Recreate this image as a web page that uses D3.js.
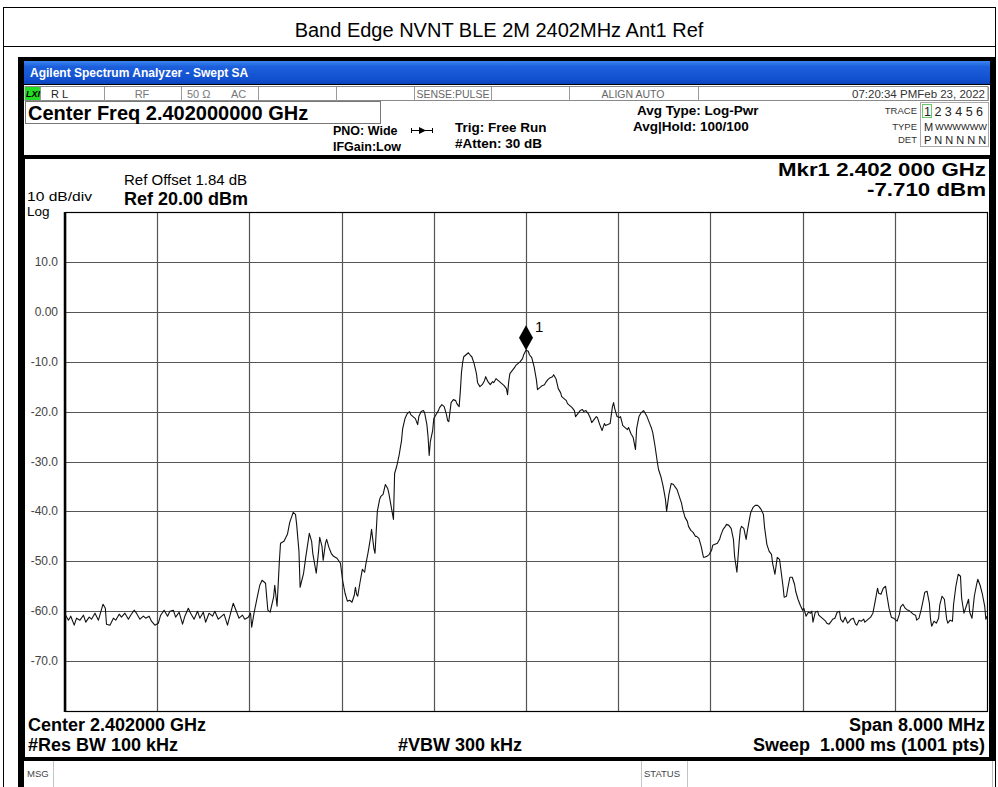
<!DOCTYPE html>
<html>
<head>
<meta charset="utf-8">
<script src="https://cdn.jsdelivr.net/npm/d3@7"></script>
<style>
  body { margin: 0; background: #fff; }
  text { font-family: "Liberation Sans", Arial, sans-serif; white-space: pre; }
</style>
</head>
<body>
<div id="container"></div>
<script>
let w = 998;
let h = 787;

// ---- chart values ----
let chartTitle = "Band Edge NVNT BLE 2M 2402MHz Ant1 Ref";
let refLevel = 20;      // dBm at top of graticule
let dbPerDiv = 10;
let numDivs = 10;
let spanMHz = 8;        // offsets below are MHz from 2.402 GHz
let yTickValues = [10, 0, -10, -20, -30, -40, -50, -60, -70];
let yTickLabels = ["10.0", "0.00", "-10.0", "-20.0", "-30.0", "-40.0", "-50.0", "-60.0", "-70.0"];
let markerOffset = 0;
let markerLevel = -7.71;

// trace 1: [offset MHz, dBm]
let trace = [
  [-4.00,-60.6],[-3.97,-61.8],[-3.95,-61.0],[-3.92,-62.8],[-3.90,-61.4],[-3.87,-61.8],[-3.84,-60.8],[-3.82,-62.2],
  [-3.79,-61.2],[-3.77,-61.6],[-3.74,-60.4],[-3.71,-61.8],[-3.69,-60.2],[-3.67,-58.6],[-3.65,-59.4],[-3.64,-62.6],
  [-3.61,-62.8],[-3.58,-61.4],[-3.56,-61.8],[-3.53,-60.6],[-3.51,-61.2],[-3.48,-60.4],[-3.45,-61.6],[-3.43,-60.8],
  [-3.40,-59.8],[-3.38,-60.4],[-3.35,-61.6],[-3.32,-61.0],[-3.30,-61.4],[-3.27,-61.0],[-3.25,-62.0],[-3.22,-62.8],
  [-3.19,-62.4],[-3.17,-60.8],[-3.14,-59.8],[-3.11,-61.0],[-3.09,-60.0],[-3.06,-59.8],[-3.04,-61.2],[-3.01,-60.2],
  [-2.98,-62.6],[-2.96,-61.0],[-2.93,-59.4],[-2.91,-60.4],[-2.88,-61.6],[-2.85,-60.0],[-2.83,-61.4],[-2.80,-60.2],
  [-2.78,-62.2],[-2.75,-60.4],[-2.72,-61.0],[-2.70,-60.0],[-2.67,-61.6],[-2.65,-61.2],[-2.62,-60.6],[-2.59,-62.8],
  [-2.57,-61.0],[-2.54,-58.4],[-2.52,-59.6],[-2.49,-61.4],[-2.46,-60.8],[-2.44,-61.6],[-2.41,-61.2],[-2.39,-60.4],
  [-2.38,-63.2],[-2.36,-60.4],[-2.33,-57.0],[-2.31,-54.8],[-2.29,-53.8],[-2.26,-54.4],[-2.24,-59.8],[-2.22,-60.2],
  [-2.19,-57.2],[-2.18,-54.8],[-2.16,-59.0],[-2.14,-50.0],[-2.13,-46.4],[-2.10,-46.0],[-2.07,-44.6],[-2.05,-42.2],
  [-2.02,-40.2],[-2.00,-40.6],[-1.99,-42.6],[-1.97,-48.0],[-1.96,-55.2],[-1.93,-52.4],[-1.91,-49.0],[-1.88,-44.4],
  [-1.86,-46.0],[-1.85,-48.4],[-1.82,-52.4],[-1.80,-48.0],[-1.79,-45.2],[-1.77,-47.0],[-1.76,-49.8],[-1.74,-46.4],
  [-1.73,-45.6],[-1.71,-47.2],[-1.69,-48.4],[-1.67,-49.0],[-1.64,-49.4],[-1.61,-50.4],[-1.59,-54.0],[-1.57,-56.4],
  [-1.55,-58.0],[-1.53,-57.8],[-1.51,-58.2],[-1.49,-56.8],[-1.48,-55.2],[-1.47,-56.6],[-1.46,-57.0],[-1.44,-54.2],
  [-1.42,-51.6],[-1.40,-52.2],[-1.39,-50.6],[-1.37,-48.2],[-1.35,-45.4],[-1.34,-43.6],[-1.32,-47.4],[-1.31,-48.4],
  [-1.29,-40.0],[-1.27,-37.6],[-1.26,-37.0],[-1.24,-36.6],[-1.22,-34.6],[-1.20,-35.4],[-1.19,-36.4],[-1.17,-39.0],
  [-1.15,-41.6],[-1.14,-32.4],[-1.12,-30.8],[-1.10,-28.6],[-1.08,-25.8],[-1.07,-23.4],[-1.05,-21.4],[-1.03,-20.4],
  [-1.01,-20.0],[-1.00,-20.6],[-0.98,-21.0],[-0.96,-21.4],[-0.94,-22.6],[-0.93,-21.0],[-0.91,-20.0],[-0.89,-19.8],
  [-0.88,-20.2],[-0.86,-22.6],[-0.85,-25.0],[-0.84,-28.8],[-0.83,-26.0],[-0.81,-23.8],[-0.80,-21.4],[-0.78,-20.6],
  [-0.76,-19.8],[-0.75,-19.2],[-0.73,-18.6],[-0.71,-19.0],[-0.69,-20.6],[-0.68,-21.8],[-0.67,-22.0],[-0.65,-18.2],
  [-0.63,-17.6],[-0.61,-17.8],[-0.60,-18.4],[-0.58,-19.0],[-0.57,-16.0],[-0.56,-12.2],[-0.55,-10.2],[-0.54,-9.0],
  [-0.52,-8.6],[-0.50,-8.2],[-0.48,-8.8],[-0.47,-9.0],[-0.45,-10.4],[-0.43,-12.4],[-0.42,-14.2],[-0.40,-15.0],
  [-0.38,-14.6],[-0.36,-13.8],[-0.35,-13.0],[-0.33,-14.0],[-0.31,-14.6],[-0.29,-14.0],[-0.28,-14.2],[-0.26,-13.4],
  [-0.24,-13.8],[-0.22,-14.2],[-0.21,-14.4],[-0.19,-14.8],[-0.17,-15.4],[-0.16,-16.6],[-0.15,-14.0],[-0.14,-12.4],
  [-0.12,-11.8],[-0.10,-11.2],[-0.09,-10.8],[-0.07,-10.4],[-0.05,-10.0],[-0.03,-9.4],[-0.02,-8.6],[0.00,-7.71],
  [0.02,-7.9],[0.03,-8.6],[0.05,-9.2],[0.07,-11.0],[0.09,-13.6],[0.10,-15.6],[0.12,-15.2],[0.14,-14.8],
  [0.16,-14.6],[0.17,-14.2],[0.19,-13.6],[0.21,-13.2],[0.23,-13.0],[0.24,-12.6],[0.26,-13.4],[0.28,-15.4],
  [0.30,-16.2],[0.31,-17.0],[0.33,-17.4],[0.35,-17.8],[0.36,-18.4],[0.38,-18.8],[0.40,-19.2],[0.42,-19.8],
  [0.43,-21.0],[0.45,-20.4],[0.47,-19.8],[0.49,-19.6],[0.50,-20.0],[0.52,-19.8],[0.54,-20.4],[0.56,-21.4],
  [0.57,-22.2],[0.59,-21.6],[0.61,-21.0],[0.62,-21.2],[0.64,-22.6],[0.66,-23.8],[0.68,-22.4],[0.69,-22.8],
  [0.71,-22.6],[0.73,-22.4],[0.75,-19.0],[0.76,-18.2],[0.77,-19.4],[0.79,-21.0],[0.81,-21.2],[0.82,-21.0],
  [0.84,-22.8],[0.86,-23.2],[0.88,-23.6],[0.89,-23.2],[0.91,-24.4],[0.93,-25.2],[0.95,-27.6],[0.96,-23.4],
  [0.98,-21.0],[1.00,-20.2],[1.02,-19.8],[1.03,-20.2],[1.05,-21.0],[1.07,-22.2],[1.09,-23.4],[1.10,-24.2],
  [1.12,-27.0],[1.14,-30.2],[1.15,-31.6],[1.17,-33.0],[1.19,-35.0],[1.21,-37.6],[1.22,-40.0],[1.24,-36.6],
  [1.26,-34.4],[1.28,-34.6],[1.29,-35.0],[1.31,-35.6],[1.33,-37.0],[1.35,-38.4],[1.36,-39.6],[1.38,-41.2],
  [1.40,-42.0],[1.41,-43.0],[1.43,-43.8],[1.45,-44.2],[1.47,-45.0],[1.48,-45.0],[1.50,-45.4],[1.52,-47.0],
  [1.54,-49.2],[1.55,-49.2],[1.57,-49.0],[1.59,-48.6],[1.61,-47.8],[1.62,-46.8],[1.64,-46.6],[1.66,-46.4],
  [1.68,-45.6],[1.69,-44.8],[1.71,-43.6],[1.73,-43.0],[1.74,-42.6],[1.76,-42.8],[1.78,-43.4],[1.80,-45.6],
  [1.81,-49.0],[1.83,-52.2],[1.85,-46.0],[1.86,-43.6],[1.87,-43.0],[1.89,-43.4],[1.91,-45.6],[1.92,-44.0],
  [1.94,-41.4],[1.95,-40.2],[1.97,-39.2],[1.99,-38.8],[2.01,-38.8],[2.02,-39.0],[2.04,-39.6],[2.06,-40.6],
  [2.07,-43.2],[2.09,-46.6],[2.11,-48.0],[2.13,-48.6],[2.14,-50.4],[2.16,-52.6],[2.18,-49.2],[2.20,-49.6],
  [2.21,-51.4],[2.23,-55.0],[2.24,-57.2],[2.26,-57.0],[2.27,-55.6],[2.29,-53.2],[2.31,-53.2],[2.33,-54.6],
  [2.34,-56.0],[2.36,-57.6],[2.38,-58.8],[2.40,-59.8],[2.41,-59.4],[2.43,-61.0],[2.45,-60.2],[2.47,-60.4],
  [2.48,-60.0],[2.49,-62.2],[2.51,-60.2],[2.53,-60.0],[2.54,-60.8],[2.56,-61.2],[2.58,-61.6],[2.60,-62.0],
  [2.61,-62.4],[2.63,-62.6],[2.65,-62.0],[2.66,-61.6],[2.68,-61.4],[2.70,-60.2],[2.72,-60.0],[2.73,-61.6],
  [2.75,-62.2],[2.77,-61.2],[2.79,-62.4],[2.80,-62.2],[2.82,-61.6],[2.84,-61.4],[2.86,-62.6],[2.87,-62.8],
  [2.89,-61.8],[2.91,-62.0],[2.93,-61.6],[2.94,-62.2],[2.96,-61.8],[2.98,-61.4],[2.99,-61.2],[3.01,-60.4],
  [3.03,-58.0],[3.05,-55.4],[3.06,-56.4],[3.08,-56.6],[3.10,-55.4],[3.12,-55.0],[3.13,-56.6],[3.15,-59.4],
  [3.17,-61.2],[3.19,-61.4],[3.20,-61.6],[3.22,-62.0],[3.24,-60.6],[3.25,-59.2],[3.27,-58.6],[3.29,-59.4],
  [3.31,-59.8],[3.32,-59.8],[3.34,-60.2],[3.36,-60.6],[3.38,-60.8],[3.39,-61.8],[3.41,-61.4],[3.43,-59.6],
  [3.45,-57.4],[3.46,-56.2],[3.48,-56.0],[3.50,-58.4],[3.51,-61.6],[3.52,-63.0],[3.54,-62.0],[3.56,-62.4],
  [3.58,-61.4],[3.59,-58.8],[3.61,-57.0],[3.63,-57.6],[3.65,-61.6],[3.66,-62.4],[3.68,-61.8],[3.70,-62.0],
  [3.71,-58.6],[3.73,-55.0],[3.75,-52.6],[3.77,-53.0],[3.78,-57.4],[3.80,-60.4],[3.82,-59.0],[3.84,-57.6],
  [3.85,-60.2],[3.87,-61.4],[3.89,-57.0],[3.91,-54.6],[3.92,-53.6],[3.94,-54.8],[3.96,-56.6],[3.98,-59.0],
  [3.99,-61.6],[4.00,-61.0]
];

let font = "'Liberation Sans', Arial, sans-serif";

let svg = d3.select("#container")
  .append("svg")
  .attr("width", w)
  .attr("height", h)
  .style("display", "block")
  .style("background-color", "white");

function label(x, y, str, size, opts) {
  opts = opts || {};
  let t = svg.append("text")
    .attr("x", x)
    .attr("y", y)
    .attr("font-size", size)
    .attr("font-weight", opts.bold ? "bold" : "normal")
    .attr("font-style", opts.italic ? "italic" : "normal")
    .attr("text-anchor", opts.anchor || "start")
    .attr("fill", opts.fill || "black")
    .text(str);
  if (opts.len) t.attr("textLength", opts.len).attr("lengthAdjust", "spacingAndGlyphs");
  return t;
}

// page frame + title
svg.append("rect").attr("x", 3.5).attr("y", 7.5).attr("width", 992).attr("height", 800)
  .attr("fill", "none").attr("stroke", "black");
svg.append("line").attr("x1", 3).attr("x2", 996).attr("y1", 46.5).attr("y2", 46.5).attr("stroke", "black");
label(w / 2, 37, chartTitle, 20, {anchor: "middle"});

// analyzer screen frame
svg.append("rect").attr("x", 18).attr("y", 57).attr("width", 978).attr("height", 704).attr("fill", "black");
svg.append("rect").attr("x", 18).attr("y", 761).attr("width", 6).attr("height", 26).attr("fill", "black");

let defs = svg.append("defs");
let grad = defs.append("linearGradient").attr("id", "bar").attr("x1", 0).attr("x2", 0).attr("y1", 0).attr("y2", 1);
grad.append("stop").attr("offset", "0%").attr("stop-color", "#3c86f0");
grad.append("stop").attr("offset", "25%").attr("stop-color", "#1c5fdc");
grad.append("stop").attr("offset", "80%").attr("stop-color", "#1150cf");
grad.append("stop").attr("offset", "100%").attr("stop-color", "#0b43bd");
svg.append("rect").attr("x", 24).attr("y", 61).attr("width", 966).attr("height", 23).attr("fill", "url(#bar)");
label(30, 77, "Agilent Spectrum Analyzer - Swept SA", 12, {bold: true, fill: "white"});

// header panel
svg.append("rect").attr("x", 24).attr("y", 85).attr("width", 966).attr("height", 70).attr("fill", "white");

// status row cells
let cellEdges = [40, 104, 181, 258, 336, 414, 491, 569, 698, 988];
svg.append("rect").attr("x", 25).attr("y", 86.5).attr("width", 963).attr("height", 14)
  .attr("fill", "white").attr("stroke", "#8a8a8a");
cellEdges.forEach(cx => {
  svg.append("line").attr("x1", cx + 0.5).attr("x2", cx + 0.5).attr("y1", 87).attr("y2", 101).attr("stroke", "#9a9a9a");
});
svg.append("rect").attr("x", 25).attr("y", 87).attr("width", 15).attr("height", 13).attr("fill", "#22dd22");
label(26, 97, "LXI", 9, {bold: true, italic: true});
label(51, 97.5, "R L", 11, {fill: "#222"});
label(142, 97.5, "RF", 11, {anchor: "middle", fill: "#777"});
label(187, 97.5, "50 Ω", 11, {fill: "#777"});
label(231, 97.5, "AC", 11, {fill: "#777"});
label(453, 97.5, "SENSE:PULSE", 10.5, {anchor: "middle", fill: "#666"});
label(633, 97.5, "ALIGN AUTO", 10.5, {anchor: "middle", fill: "#666"});
label(985, 97.5, "07:20:34 PMFeb 23, 2022", 11.5, {anchor: "end", fill: "#333"});

// center freq box
svg.append("rect").attr("x", 25.5).attr("y", 101.5).attr("width", 355).attr("height", 22)
  .attr("fill", "white").attr("stroke", "#777");
label(28, 119.5, "Center Freq 2.402000000 GHz", 20, {bold: true});

label(333, 135, "PNO: Wide", 12.5, {bold: true});
label(333, 151, "IFGain:Low", 12.5, {bold: true});
svg.append("line").attr("x1", 411).attr("x2", 433).attr("y1", 130.5).attr("y2", 130.5).attr("stroke", "black");
svg.append("line").attr("x1", 411.5).attr("x2", 411.5).attr("y1", 128).attr("y2", 133).attr("stroke", "black");
svg.append("line").attr("x1", 432.5).attr("x2", 432.5).attr("y1", 128).attr("y2", 133).attr("stroke", "black");
svg.append("path").attr("d", "M419,127 L426,130.5 L419,134 Z").attr("fill", "black");
label(455, 132, "Trig: Free Run", 13.5, {bold: true});
label(455, 148, "#Atten: 30 dB", 13.5, {bold: true});
label(637, 115, "Avg Type: Log-Pwr", 13.5, {bold: true});
label(633, 131, "Avg|Hold: 100/100", 13.5, {bold: true});

// trace / type / det table
svg.append("rect").attr("x", 920.5).attr("y", 102.5).attr("width", 68).attr("height", 44)
  .attr("fill", "white").attr("stroke", "#aaa");
label(917, 114, "TRACE", 9.5, {anchor: "end", fill: "#333"});
label(917, 130, "TYPE", 9.5, {anchor: "end", fill: "#333"});
label(917, 143, "DET", 9.5, {anchor: "end", fill: "#333"});
svg.append("rect").attr("x", 922.5).attr("y", 104.5).attr("width", 9).attr("height", 13)
  .attr("fill", "none").attr("stroke", "#66cc66");
label(924, 116, "1 2 3 4 5 6", 12.5, {fill: "#222"});
label(924, 131, "M", 11, {fill: "#222"});
label(935, 130, "WWWWWW", 9.5, {fill: "#222", len: 52});
label(924, 144, "P N N N N N", 11, {fill: "#222"});

// plot panel
svg.append("rect").attr("x", 25).attr("y", 159).attr("width", 964).attr("height", 598).attr("fill", "white");

// scales
let x = d3.scaleLinear().domain([-spanMHz / 2, spanMHz / 2]).range([65, 987]);
let y = d3.scaleLinear().domain([refLevel - numDivs * dbPerDiv, refLevel]).range([711, 212]);

let gridG = svg.append("g");
let xGrid = d3.range(1, numDivs).map(i => -spanMHz / 2 + i * spanMHz / numDivs);
gridG.selectAll(".vg").data(xGrid).enter()
  .append("line")
  .attr("x1", d => Math.round(x(d)) + 0.5).attr("x2", d => Math.round(x(d)) + 0.5)
  .attr("y1", y.range()[1]).attr("y2", y.range()[0])
  .attr("stroke", "#555").attr("stroke-width", 1.2);
gridG.selectAll(".hg").data(yTickValues).enter()
  .append("line")
  .attr("x1", x.range()[0]).attr("x2", x.range()[1])
  .attr("y1", d => Math.round(y(d)) + 0.5).attr("y2", d => Math.round(y(d)) + 0.5)
  .attr("stroke", "#555").attr("stroke-width", 1.2);

svg.append("rect")
  .attr("x", x.range()[0] + 0.5).attr("y", y.range()[1] + 0.5)
  .attr("width", x.range()[1] - x.range()[0]).attr("height", y.range()[0] - y.range()[1])
  .attr("fill", "none").attr("stroke", "black").attr("stroke-width", 1.2);
svg.append("line").attr("x1", x.range()[0]).attr("x2", x.range()[0])
  .attr("y1", y.range()[1]).attr("y2", y.range()[0] + 1).attr("stroke", "black").attr("stroke-width", 2.5);

// y tick labels
svg.selectAll(".ytl").data(yTickValues).enter()
  .append("text")
  .attr("x", 58)
  .attr("y", d => y(d) + 4)
  .attr("text-anchor", "end")
  .attr("font-size", 12)
  .attr("font-family", font)
  .attr("fill", "#444")
  .text((d, i) => yTickLabels[i]);

// trace
let line = d3.line()
  .x(d => x(d[0]))
  .y(d => y(d[1]));
svg.append("path")
  .attr("d", line(trace))
  .attr("fill", "none")
  .attr("stroke", "#111")
  .attr("stroke-width", 1.1)
  .attr("stroke-linejoin", "round");

// marker 1
let mx = x(markerOffset);
let my = y(markerLevel);
svg.append("path")
  .attr("d", `M${mx},${my} L${mx + 7},${my - 12.5} L${mx},${my - 25} L${mx - 7},${my - 12.5} Z`)
  .attr("fill", "black");
label(mx + 9, my - 18, "1", 15);

// annotations in plot panel
label(124, 185, "Ref Offset 1.84 dB", 15);
label(124, 205, "Ref 20.00 dBm", 18, {bold: true});
label(27, 201, "10 dB/div", 13.5, {len: 65});
label(27, 216, "Log", 13.5);
label(986, 176, "Mkr1 2.402 000 GHz", 18, {bold: true, anchor: "end", len: 208});
label(986, 196, "-7.710 dBm", 18, {bold: true, anchor: "end", len: 119});

label(28, 731, "Center 2.402000 GHz", 18, {bold: true});
label(28, 751, "#Res BW 100 kHz", 18, {bold: true});
label(398, 751, "#VBW 300 kHz", 18, {bold: true});
label(985, 731, "Span 8.000 MHz", 18, {bold: true, anchor: "end"});
label(985, 751, "Sweep\u00a0\u00a01.000 ms (1001 pts)", 18, {bold: true, anchor: "end"});

// msg / status row
svg.append("rect").attr("x", 24).attr("y", 761).attr("width", 969).attr("height", 26).attr("fill", "white");
svg.append("line").attr("x1", 992.5).attr("x2", 992.5).attr("y1", 761).attr("y2", 787).attr("stroke", "#bbb");
[53, 641, 687].forEach(sx => {
  svg.append("line").attr("x1", sx + 0.5).attr("x2", sx + 0.5).attr("y1", 761).attr("y2", 787).attr("stroke", "#c4c4c4");
});
label(27, 777, "MSG", 9.5, {fill: "#444"});
label(644, 777, "STATUS", 9.5, {fill: "#444"});
</script>
</body>
</html>
